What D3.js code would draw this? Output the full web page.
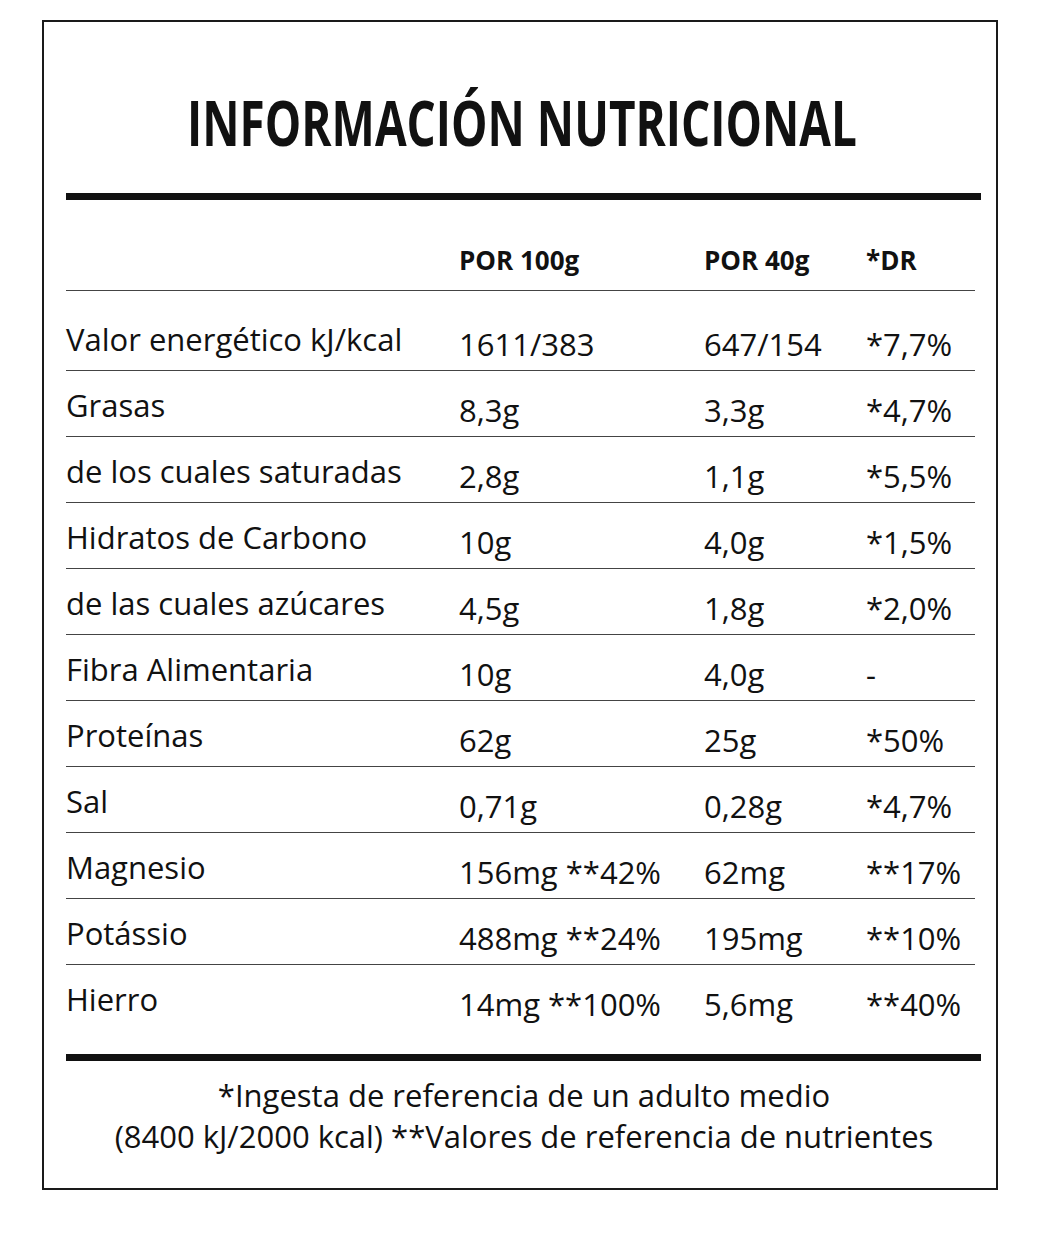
<!DOCTYPE html>
<html><head><meta charset="utf-8">
<script src="https://cdn.jsdelivr.net/npm/d3@7"></script>
<style>body{margin:0;background:#fff}</style>
</head><body>
<script>
var labels = ["Valor energético kJ/kcal","Grasas","de los cuales saturadas","Hidratos de Carbono","de las cuales azúcares","Fibra Alimentaria","Proteínas","Sal","Magnesio","Potássio","Hierro"];
var per100 = ["1611/383","8,3g","2,8g","10g","4,5g","10g","62g","0,71g","156mg **42%","488mg **24%","14mg **100%"];
var per40 = ["647/154","3,3g","1,1g","4,0g","1,8g","4,0g","25g","0,28g","62mg","195mg","5,6mg"];
var dr = ["*7,7%","*4,7%","*5,5%","*1,5%","*2,0%","-","*50%","*4,7%","**17%","**10%","**40%"];
var headers = ["POR 100g","POR 40g","*DR"];
var footer = ["*Ingesta de referencia de un adulto medio","(8400 kJ/2000 kcal) **Valores de referencia de nutrientes"];

var font = "'Liberation Sans Narrow','Open Sans',sans-serif";
var svg = d3.select("body").append("svg").attr("width",1042).attr("height",1246);

svg.append("rect").attr("x",43).attr("y",21).attr("width",954).attr("height",1168)
   .attr("fill","none").attr("stroke","#1a1a1a").attr("stroke-width",2);

svg.append("text").attr("x",187).attr("y",146).attr("textLength",670).attr("lengthAdjust","spacingAndGlyphs")
   .attr("font-family",font).attr("font-weight","bold").attr("font-size",62).attr("fill","#111")
   .text("INFORMACIÓN NUTRICIONAL");

svg.append("rect").attr("x",66).attr("y",193).attr("width",915).attr("height",7).attr("fill","#111");
svg.append("rect").attr("x",66).attr("y",1054).attr("width",915).attr("height",7).attr("fill","#111");

var colX = [66,459,704,866];
svg.selectAll(".hdr").data(headers).enter().append("text")
   .attr("x",function(d,i){return colX[i+1];}).attr("y",270)
   .attr("font-family",font).attr("font-weight","bold").attr("font-size",26).attr("fill","#111")
   .text(function(d){return d;});

svg.append("line").attr("x1",66).attr("x2",975).attr("y1",290.5).attr("y2",290.5)
   .attr("stroke","#444").attr("stroke-width",1);

var y = d3.scaleBand().domain(d3.range(labels.length)).range([304,1030]);

svg.selectAll(".sep").data(d3.range(1,labels.length)).enter().append("line")
   .attr("x1",66).attr("x2",975)
   .attr("y1",function(d){return y(d)+0.5;}).attr("y2",function(d){return y(d)+0.5;})
   .attr("stroke","#444").attr("stroke-width",1);

var cols = [labels,per100,per40,dr];
cols.forEach(function(col,ci){
  svg.selectAll(".c"+ci).data(col).enter().append("text")
     .attr("x",colX[ci]).attr("y",function(d,i){return y(i)+(ci==0?47:52);})
     .attr("font-family",font).attr("font-size",31).attr("fill","#111")
     .text(function(d){return d;});
});

svg.selectAll(".ft").data(footer).enter().append("text")
   .attr("x",524).attr("y",function(d,i){return 1107+i*41;}).attr("text-anchor","middle")
   .attr("font-family",font).attr("font-size",31).attr("fill","#111")
   .text(function(d){return d;});
</script>
</body></html>
